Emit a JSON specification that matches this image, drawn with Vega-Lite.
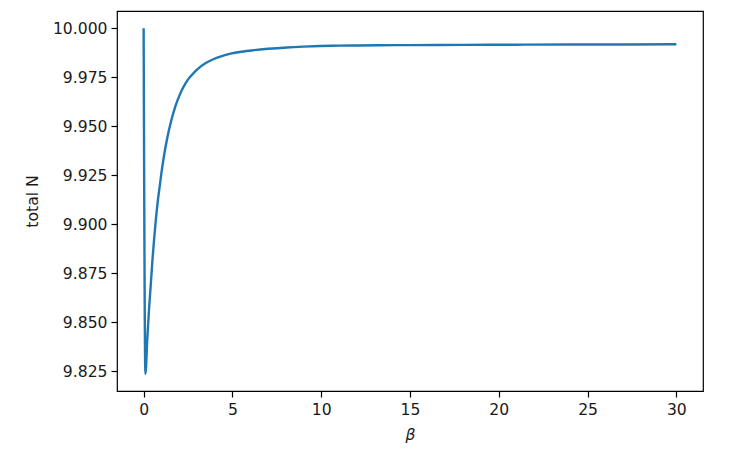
{
  "$schema": "https://vega.github.io/schema/vega-lite/v6.json",
  "width": 586,
  "height": 380,
  "autosize": {"type": "none"},
  "padding": {"left": 117, "top": 11, "right": 36, "bottom": 70},
  "background": "white",
  "config": {
    "view": {"stroke": "#000000", "strokeWidth": 1.2},
    "font": "DejaVu Sans",
    "axis": {
      "domain": false,
      "grid": false,
      "tickColor": "#000000",
      "tickSize": 6,
      "tickWidth": 1.2,
      "labelFont": "DejaVu Sans",
      "labelFontSize": 15.6,
      "labelColor": "#1a1a1a",
      "titleFont": "DejaVu Sans",
      "titleFontSize": 15.6,
      "titleFontWeight": "normal",
      "titleColor": "#1a1a1a"
    }
  },
  "data": {
    "values": [
      {"beta": 0, "N": 10.0},
      {"beta": 0.1, "N": 9.8236},
      {"beta": 0.21, "N": 9.842},
      {"beta": 0.3, "N": 9.856},
      {"beta": 0.39, "N": 9.8676},
      {"beta": 0.5, "N": 9.882},
      {"beta": 0.67, "N": 9.9005},
      {"beta": 0.8, "N": 9.912},
      {"beta": 0.9, "N": 9.919},
      {"beta": 1.0, "N": 9.926},
      {"beta": 1.14, "N": 9.9345},
      {"beta": 1.33, "N": 9.944},
      {"beta": 1.56, "N": 9.953},
      {"beta": 1.8, "N": 9.9605},
      {"beta": 2.08, "N": 9.967},
      {"beta": 2.4, "N": 9.9725},
      {"beta": 2.7, "N": 9.976},
      {"beta": 3.02, "N": 9.979},
      {"beta": 3.5, "N": 9.9822},
      {"beta": 3.95, "N": 9.9843},
      {"beta": 4.4, "N": 9.9858},
      {"beta": 4.89, "N": 9.987},
      {"beta": 5.5, "N": 9.988},
      {"beta": 6.2, "N": 9.9888},
      {"beta": 7.0, "N": 9.9895},
      {"beta": 8.07, "N": 9.9902},
      {"beta": 9.0, "N": 9.9906},
      {"beta": 9.94, "N": 9.9909},
      {"beta": 11.0, "N": 9.9911},
      {"beta": 12.0, "N": 9.9912},
      {"beta": 13.3, "N": 9.9913},
      {"beta": 15.0, "N": 9.9914},
      {"beta": 18.0, "N": 9.9915},
      {"beta": 21.0, "N": 9.9916},
      {"beta": 24.0, "N": 9.9917},
      {"beta": 27.0, "N": 9.9917},
      {"beta": 30.0, "N": 9.9918}
    ]
  },
  "mark": {"type": "line", "color": "#1f77b4", "strokeWidth": 2.4, "clip": true, "interpolate": "monotone"},
  "encoding": {
    "x": {
      "field": "beta",
      "type": "quantitative",
      "scale": {"domain": [-1.5, 31.5], "nice": false, "zero": false},
      "axis": {"values": [0, 5, 10, 15, 20, 25, 30], "title": "β", "titleFontStyle": "italic", "labelPadding": 5, "titlePadding": 10}
    },
    "y": {
      "field": "N",
      "type": "quantitative",
      "scale": {"domain": [9.8148, 10.0088], "nice": false, "zero": false},
      "axis": {"values": [9.825, 9.85, 9.875, 9.9, 9.925, 9.95, 9.975, 10.0], "format": ".3f", "title": "total N", "labelPadding": 4, "titlePadding": 12}
    }
  }
}
